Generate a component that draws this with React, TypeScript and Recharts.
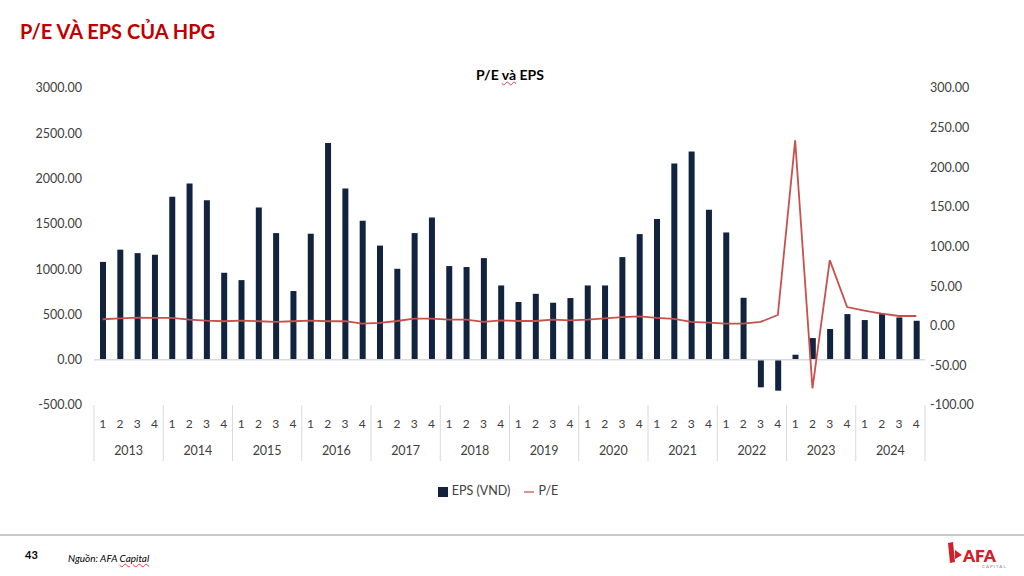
import React from "react";
import {
  ComposedChart,
  Bar,
  Line,
  XAxis,
  YAxis,
  Legend,
  ReferenceLine,
} from "recharts";

const years = ["2013", "2014", "2015", "2016", "2017", "2018", "2019", "2020", "2021", "2022", "2023", "2024"];
const quarters = ["1", "2", "3", "4"];

// EPS (VND), one value per quarter 2013Q1 .. 2024Q4
const eps = [
  1080, 1215, 1177, 1159,
  1799, 1946, 1762, 960,
  879, 1681, 1398, 758,
  1391, 2392, 1891, 1534,
  1260, 1004, 1398, 1571,
  1034, 1023, 1122, 820,
  637, 728, 629, 681,
  820, 820, 1133, 1387,
  1553, 2167, 2299, 1656,
  1405, 684, -305, -342,
  55, 239, 339, 504,
  438, 504, 467, 430,
];

// P/E, same quarters
const pe = [
  8.2, 9.4, 10.3, 10,
  10, 7.8, 6.5, 5.7,
  6.5, 5.7, 4.8, 5.7,
  6.5, 5.7, 5.7, 2.7,
  3.5, 6, 9, 9,
  7.8, 7.8, 4.8, 6.9,
  6, 6, 7.8, 6.9,
  7.8, 9.4, 11, 11.9,
  10, 8.6, 4.8, 4,
  2.7, 2.7, 4.8, 13.6,
  234, -79, 82.8, 23.6,
  19, 15.3, 12.3, 12.3,
];

const epsTicks = [-500, 0, 500, 1000, 1500, 2000, 2500, 3000];
const peTicks = [-100, -50, 0, 50, 100, 150, 200, 250, 300];

const data = years.flatMap((y, yi) =>
  quarters.map((q, qi) => ({
    key: `${y}Q${q}`,
    year: y,
    quarter: q,
    eps: eps[yi * 4 + qi],
    pe: pe[yi * 4 + qi],
  }))
);

const FONT = "Lato, 'Liberation Sans', sans-serif";
const TEXT = "#404040";
const W = 1024;
const H = 576;
const LEFT_W = 94;
const RIGHT_W = 99;
const STEP = (W - LEFT_W - RIGHT_W) / data.length;

function QuarterTick(props: any) {
  const { x, y, payload } = props;
  const i = payload.index as number;
  const d = data[i];
  const first = i % 4 === 0;
  const last = i === data.length - 1;
  return (
    <g>
      <text x={x} y={y + 23} textAnchor="middle" fontSize={12} fill={TEXT} fontFamily={FONT}>
        {d.quarter}
      </text>
      {i % 4 === 1 && (
        <text x={x + STEP / 2} y={y + 50} textAnchor="middle" fontSize={12.5} fill={TEXT} fontFamily={FONT}>
          {d.year}
        </text>
      )}
      {first && <line x1={x - STEP / 2} x2={x - STEP / 2} y1={y} y2={y + 56} stroke="#d9d9d9" />}
      {last && <line x1={x + STEP / 2} x2={x + STEP / 2} y1={y} y2={y + 56} stroke="#d9d9d9" />}
    </g>
  );
}

const fmt = (v: number) => v.toFixed(2);

export default function App() {
  return (
    <div
      style={{
        position: "fixed",
        left: 0,
        top: 0,
        width: W,
        height: H,
        background: "#fff",
        fontFamily: FONT,
        overflow: "hidden",
      }}
    >
      <div
        style={{
          position: "absolute",
          left: 20,
          top: 19,
          fontSize: 20,
          fontWeight: 700,
          color: "#C00000",
          whiteSpace: "nowrap",
        }}
      >
        P/E VÀ EPS CỦA HPG
      </div>
      <div
        style={{
          position: "absolute",
          left: 0,
          width: 2 * 510,
          top: 66,
          textAlign: "center",
          fontSize: 14,
          fontWeight: 700,
          color: "#000",
        }}
      >
        P/E{" "}
        <span style={{ textDecoration: "underline wavy #e04040", textDecorationThickness: 1 }}>và</span> EPS
      </div>

      <div style={{ position: "absolute", left: 0, top: 0 }}>
        <ComposedChart
          width={W}
          height={H}
          data={data}
          margin={{ top: 88, right: 0, bottom: 111, left: 0 }}
          barCategoryGap="65%"
        >
          <XAxis
            dataKey="key"
            xAxisId="q"
            interval={0}
            axisLine={false}
            tickLine={false}
            tickSize={0}
            tickMargin={0}
            height={60}
            tick={<QuarterTick />}
          />
          <YAxis
            yAxisId="eps"
            orientation="left"
            width={LEFT_W}
            domain={[-500, 3000]}
            ticks={epsTicks}
            tickFormatter={fmt}
            axisLine={false}
            tickLine={false}
            tickSize={0}
            tickMargin={12}
            tick={{ fontSize: 12.5, fill: TEXT, fontFamily: FONT }}
            interval={0}
          />
          <YAxis
            yAxisId="pe"
            orientation="right"
            width={RIGHT_W}
            domain={[-100, 300]}
            ticks={peTicks}
            tickFormatter={fmt}
            axisLine={false}
            tickLine={false}
            tickSize={0}
            tickMargin={5}
            tick={{ fontSize: 12.5, fill: TEXT, fontFamily: FONT }}
            interval={0}
          />
          <ReferenceLine yAxisId="eps" xAxisId="q" y={0} stroke="#d9d9d9" strokeWidth={1.5} />
          <Bar
            dataKey="eps"
            name="EPS (VND)"
            xAxisId="q"
            yAxisId="eps"
            fill="#12233F"
            barSize={6}
            legendType="square"
            isAnimationActive={false}
          />
          <Line
            dataKey="pe"
            name="P/E"
            xAxisId="q"
            yAxisId="pe"
            type="linear"
            stroke="#C8504D"
            strokeWidth={1.8}
            dot={false}
            activeDot={false}
            legendType="plainline"
            isAnimationActive={false}
          />
          <Legend
            layout="horizontal"
            align="center"
            verticalAlign="middle"
            iconSize={10}
            wrapperStyle={{ top: 483, left: 0, width: 2 * 505, fontSize: 12.5, fontFamily: FONT }}
            formatter={(v: string) => <span style={{ color: TEXT, marginRight: 4 }}>{v}</span>}
          />
        </ComposedChart>
      </div>

      <div style={{ position: "absolute", left: 0, top: 534, width: W, height: 2, background: "#c8c8c8" }} />
      <div style={{ position: "absolute", left: 25, top: 548, fontSize: 11, fontWeight: 700, color: "#000" }}>43</div>
      <div style={{ position: "absolute", left: 68, top: 552, fontSize: 10, fontStyle: "italic", color: "#000" }}>
        Nguồn: AFA <span style={{ textDecoration: "underline wavy #e04040" }}>Capital</span>
      </div>
      <svg style={{ position: "absolute", left: 940, top: 538 }} width={80} height={34}>
        <polygon points="8,5 13,4 15,24 10,25" fill="#D0202A" />
        <polygon points="15,12 22,17 15,21" fill="#D0202A" />
        <text x={23} y={24} fontSize={17} fontWeight={800} fill="#D0202A" fontFamily={FONT}>
          AFA
        </text>
        <text x={42} y={30} fontSize={4.5} fill="#888" fontFamily={FONT} letterSpacing={1}>
          CAPITAL
        </text>
      </svg>
    </div>
  );
}
